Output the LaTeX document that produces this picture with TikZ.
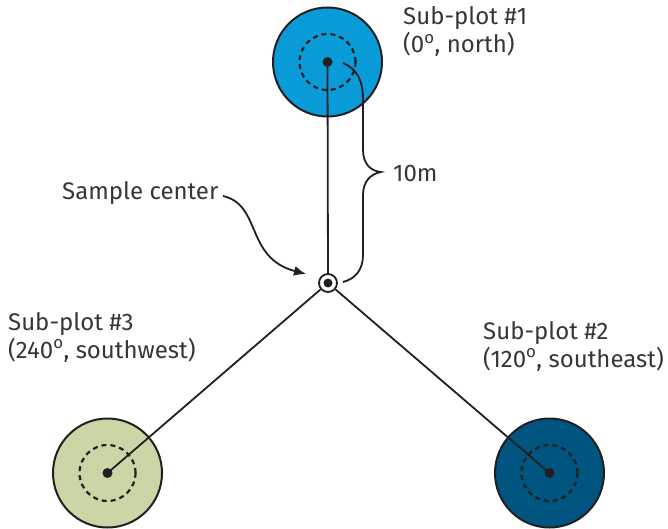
\documentclass[tikz,border=0pt]{standalone}
\usepackage{fontspec}
\setmainfont{Fira Sans}
\usetikzlibrary{arrows.meta}
\definecolor{sp1}{RGB}{9,156,217}
\definecolor{sp2}{RGB}{0,84,128}
\definecolor{sp3}{RGB}{202,214,166}
\definecolor{ink}{RGB}{35,31,32}
\begin{document}
\begin{tikzpicture}[x=1pt,y=-1pt,
  plot/.style={circle, draw=ink, line width=2pt, minimum size=109pt, inner sep=0},
  innerring/.style={circle, draw=ink, dash pattern=on 5pt off 4pt, line width=2.2pt, minimum size=56pt, inner sep=0},
  dot/.style={circle, fill=ink, minimum size=10pt, inner sep=0},
  lbl/.style={font=\fontsize{24}{28}\selectfont, text=ink!90, align=left, inner sep=0},
  conn/.style={line width=1.8pt, draw=ink}]
\useasboundingbox (0,0) rectangle (668,529);
% sub-plots
\node[plot, fill=sp1] (p1) at (327.5,62) {};
\node[plot, fill=sp2] (p2) at (549.5,473) {};
\node[plot, fill=sp3] (p3) at (107.5,473) {};
\node[innerring] (r1) at (p1) {};
\node[innerring] (r2) at (p2) {};
\node[innerring] (r3) at (p3) {};
% sample center
\node[circle, draw=ink, line width=1.8pt, fill=white, minimum size=18pt, inner sep=0] (c) at (328,283) {};
\node[dot, minimum size=9pt] (cd) at (c) {};
% connectors
\draw[conn] (p1.center) -- (c);
\draw[conn] (c) -- (p2.center);
\draw[conn] (c) -- (p3.center);
\node[dot] (d1) at (p1) {};
\node[dot] (d2) at (p2) {};
\node[dot] (d3) at (p3) {};
% brace
\coordinate (bt) at (343,63);
\coordinate (bb) at (343,282);
\draw[conn] (bt) .. controls (357,69) and (363,80) .. (363,100) -- (363,150)
  .. controls (363,163) and (370,171) .. (381,172)
  .. controls (370,174) and (363,182) .. (363,195) -- (363,255)
  .. controls (363,270) and (355,279) .. (bb);
% labels
\node[lbl, anchor=base west] (l1) at (403,53) {Sub-plot \#1\\(0\textsuperscript{o}, north)};
\node[lbl, anchor=base west] (l2) at (483,367) {Sub-plot \#2\\(120\textsuperscript{o}, southeast)};
\node[lbl, anchor=base west] (l3) at (8,358) {Sub-plot \#3\\(240\textsuperscript{o}, southwest)};
\node[lbl, anchor=base west] (ls) at (62,200) {Sample center};
\node[lbl, anchor=base west] (lm) at (393,182) {10m};
% arrow
\coordinate (a0) at (223,196);
\coordinate (a1) at (306,274);
\draw[conn, -{Latex[length=12pt,width=10pt]}] (a0) .. controls (262,205) and (245,258) .. (a1);
\end{tikzpicture}
\end{document}
